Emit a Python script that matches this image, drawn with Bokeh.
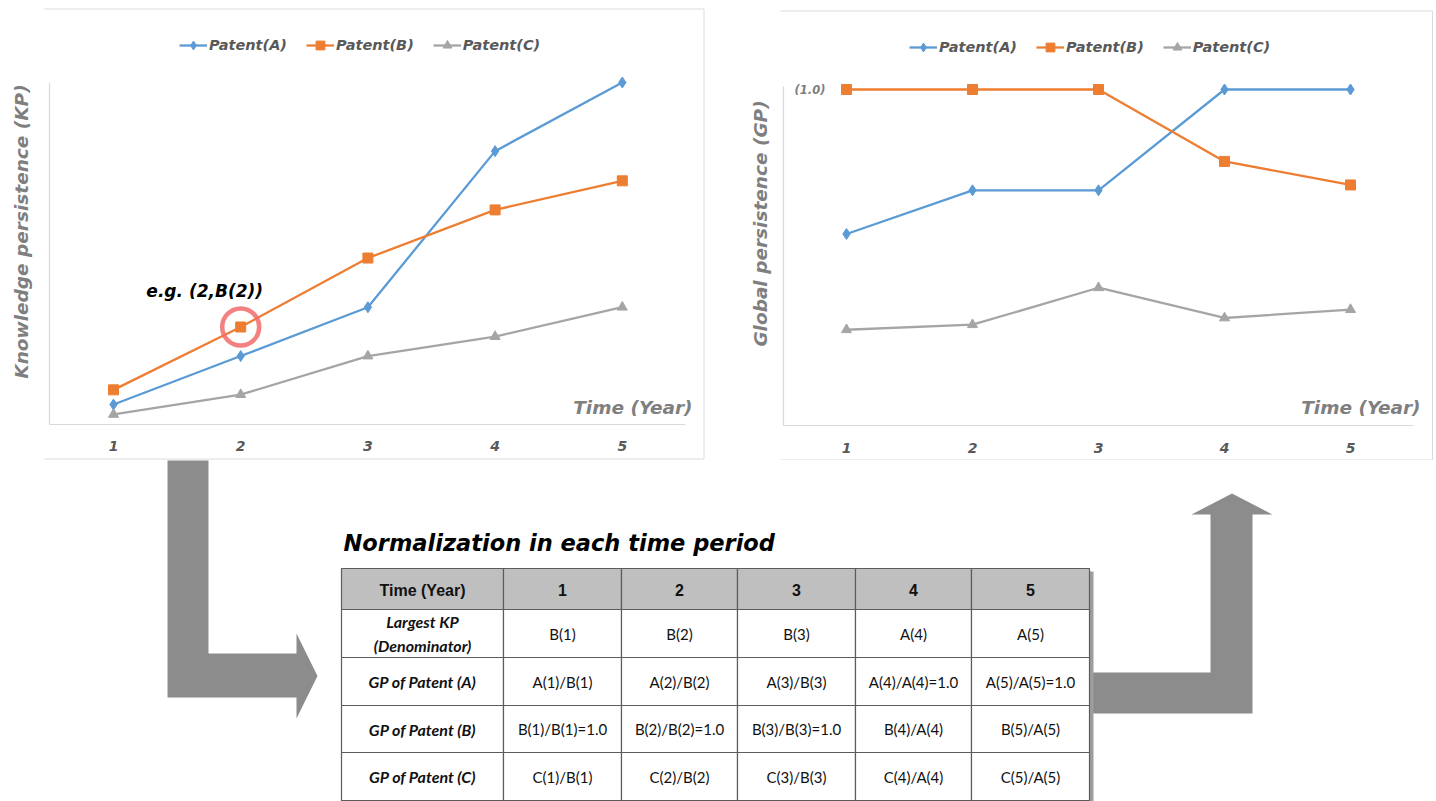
import math

from bokeh.core.properties import value
from bokeh.embed import file_html
from bokeh.layouts import column, row
from bokeh.models import (FixedTicker, Label, Legend, LegendItem,
                          LinearAxis, Range1d)
from bokeh.plotting import figure
from bokeh.resources import INLINE

# ---------------------------------------------------------------- data
years = [1, 2, 3, 4, 5]
year_labels = ["1", "2", "3", "4", "5"]
series_names = ["Patent(A)", "Patent(B)", "Patent(C)"]

# knowledge persistence (raw)
kp_a = [0.57, 1.99, 3.42, 7.99, 10.0]
kp_b = [1.0, 2.84, 4.86, 6.27, 7.12]
kp_c = [0.28, 0.86, 1.99, 2.56, 3.42]

# global persistence (normalised per year by the largest KP)
gp_a = [0.57, 0.70, 0.70, 1.0, 1.0]
gp_b = [1.0, 1.0, 1.0, 0.786, 0.716]
gp_c = [0.285, 0.30, 0.41, 0.32, 0.345]

table_header = ["Time (Year)", "1", "2", "3", "4", "5"]
table_row_labels = ["Largest KP\n(Denominator)", "GP of Patent (A)",
                    "GP of Patent (B)", "GP of Patent (C)"]
table_denominator = ["B(1)", "B(2)", "B(3)", "A(4)", "A(5)"]
table_gp_a = ["A(1)/B(1)", "A(2)/B(2)", "A(3)/B(3)", "A(4)/A(4)=1.0", "A(5)/A(5)=1.0"]
table_gp_b = ["B(1)/B(1)=1.0", "B(2)/B(2)=1.0", "B(3)/B(3)=1.0", "B(4)/A(4)", "B(5)/A(5)"]
table_gp_c = ["C(1)/B(1)", "C(2)/B(2)", "C(3)/B(3)", "C(4)/A(4)", "C(5)/A(5)"]

# ---------------------------------------------------------------- styles
BLUE, ORANGE, GREY = "#5b9bd5", "#ed7d31", "#a5a5a5"
AXIS_GREY = "#d9d9d9"
FONT = "DejaVu Sans"
TITLE_GREY = "#7f7f7f"
TEXT_GREY = "#595959"


def make_chart(width, height, x1_px, unit_x, y0_px, unit_y, y_top_val,
               ks, y_title, title_px, time_px, legend_left, legend_bottom,
               box_px, one_label=False):
    """Line chart whose frame fills the whole canvas; the geometry arguments
    place year 1 at x1_px and value 0 at y0_px (pixels from the top-left)."""
    x_start = 1 - x1_px / unit_x
    x_end = 1 + (width - x1_px) / unit_x
    y_top = y0_px / unit_y
    y_bottom = -(height - y0_px) / unit_y

    def to_x(px):
        return x_start + px / unit_x

    def to_y(py):
        return y_top - py / unit_y

    p = figure(width=width, height=height,
               x_range=Range1d(x_start, x_end), y_range=Range1d(y_bottom, y_top),
               x_axis_type=None, y_axis_type=None, toolbar_location=None,
               output_backend="svg", min_border=0, outline_line_color=None,
               background_fill_color="white", border_fill_color="white")

    # open frame around the chart area: top, right and bottom edges
    left, right, top, bottom = box_px
    p.line([to_x(left), to_x(right), to_x(right), to_x(left)],
           [to_y(top), to_y(top), to_y(bottom), to_y(bottom)],
           line_color="#dcdcdc", line_width=1)

    xaxis = LinearAxis(fixed_location=0, bounds=(0.5, 5.5),
                       ticker=FixedTicker(ticks=years, minor_ticks=[]),
                       major_label_overrides={y: t for y, t in zip(years, year_labels)},
                       axis_line_color=AXIS_GREY, axis_line_width=1.2,
                       major_tick_line_color=None, minor_tick_line_color=None,
                       major_label_standoff=11,
                       major_label_text_font=FONT,
                       major_label_text_font_style="bold italic",
                       major_label_text_font_size="14px",
                       major_label_text_color=TEXT_GREY)
    p.add_layout(xaxis, "below")

    if one_label:
        yaxis = LinearAxis(fixed_location=0.5, bounds=(0, y_top_val),
                           ticker=FixedTicker(ticks=[1.0], minor_ticks=[]),
                           major_label_overrides={1.0: "(1.0)"},
                           axis_line_color=AXIS_GREY, axis_line_width=1.2,
                           major_tick_line_color=None, minor_tick_line_color=None,
                           major_label_standoff=5,
                           major_label_text_font=FONT,
                           major_label_text_font_style="bold italic",
                           major_label_text_font_size="11.5px",
                           major_label_text_color=TITLE_GREY)
        p.add_layout(yaxis, "right")
    else:
        yaxis = LinearAxis(fixed_location=0.5, bounds=(0, y_top_val),
                           ticker=FixedTicker(ticks=[], minor_ticks=[]),
                           axis_line_color=AXIS_GREY, axis_line_width=1.2,
                           major_tick_line_color=None, minor_tick_line_color=None,
                           major_label_text_font_size="0px")
        p.add_layout(yaxis, "left")

    items = []
    for name, vals, color, marker, size in zip(
            series_names, ks, [BLUE, ORANGE, GREY],
            ["diamond", "square", "triangle"], [11, 10, 10]):
        lr = p.line(years, vals, line_color=color, line_width=2.3)
        sr = p.scatter(years, vals, marker=marker, size=size,
                       fill_color=color, line_color=color)
        items.append(LegendItem(label=name, renderers=[lr, sr]))

    legend = Legend(items=items, orientation="horizontal",
                    location=(legend_left, height - legend_bottom),
                    border_line_color=None, background_fill_alpha=0,
                    padding=0, margin=0, spacing=19,
                    glyph_width=28, glyph_height=22, label_height=22,
                    label_standoff=2,
                    label_text_font=FONT, label_text_font_style="bold italic",
                    label_text_font_size="14.5px", label_text_color=TEXT_GREY,
                    label_text_baseline="middle")
    p.add_layout(legend)

    p.add_layout(Label(x=to_x(title_px[0]), y=to_y(title_px[1]), text=y_title,
                       angle=math.pi / 2, text_align="center", text_baseline="middle",
                       text_font=FONT, text_font_style="bold italic",
                       text_font_size="18.5px", text_color=TITLE_GREY))
    p.add_layout(Label(x=to_x(time_px[0]), y=to_y(time_px[1]), text="Time (Year)",
                       text_align="right", text_baseline="middle",
                       text_font=FONT, text_font_style="bold italic",
                       text_font_size="18.5px", text_color=TITLE_GREY))
    return p


# ---------------------------------------------------------------- KP chart
p1 = make_chart(width=720, height=460, x1_px=113, unit_x=127.2,
                y0_px=423.5, unit_y=34.15, y_top_val=10.0,
                ks=[kp_a, kp_b, kp_c], y_title="Knowledge persistence (KP)",
                title_px=(20.5, 231), time_px=(692, 407),
                legend_left=179, legend_bottom=56,
                box_px=(44, 703.5, 8.5, 458.5))

# highlighted point B(2)
p1.scatter([years[1]], [kp_b[1]], marker="circle", size=37, fill_color=None,
           line_color="#f26b6b", line_width=4.5, line_alpha=0.85)
p1.add_layout(Label(x=years[1], y=kp_b[1], x_offset=-36, y_offset=36,
                    text="e.g. (2,B(2))", text_align="center", text_baseline="middle",
                    text_font=FONT, text_font_style="bold italic",
                    text_font_size="17px", text_color="black"))

# ---------------------------------------------------------------- GP chart
p2 = make_chart(width=716, height=460, x1_px=126, unit_x=126,
                y0_px=425, unit_y=336, y_top_val=1.01,
                ks=[gp_a, gp_b, gp_c], y_title="Global persistence (GP)",
                title_px=(40, 223), time_px=(700, 407),
                legend_left=189, legend_bottom=57.5,
                box_px=(60, 712, 10.5, 459.5), one_label=True)

# ---------------------------------------------------------------- lower panel
q = figure(width=1436, height=341, x_range=Range1d(0, 1436), y_range=Range1d(801, 460),
           x_axis_type=None, y_axis_type=None, toolbar_location=None,
           output_backend="svg", min_border=0, outline_line_color=None,
           background_fill_color="white", border_fill_color="white")

ARROW = "#8c8c8c"
# bent arrow from the KP chart down into the table
q.patch([167, 208, 208, 296, 296, 317, 296, 296, 167],
        [455, 455, 653, 653, 633, 675.5, 718, 697, 697],
        fill_color=ARROW, line_color=None)
# bent arrow from the table up to the GP chart
q.patch([1092, 1210, 1210, 1191, 1231.5, 1272, 1252, 1252, 1092],
        [672, 672, 514, 514, 493, 514, 514, 713, 713],
        fill_color=ARROW, line_color=None)

q.text(x=[343], y=[542], text=["Normalization in each time period"],
       text_align="left", text_baseline="middle",
       text_font=value(FONT), text_font_style="bold italic",
       text_font_size="22.5px", text_color="black")

col_edges = [341, 503, 621, 737, 855, 971, 1089]
row_edges = [568, 609, 657, 705, 752, 800]

# drop shadow on the right of the table
q.quad(left=[1089], right=[1093], top=[571], bottom=[801],
       fill_color="#9e9e9e", line_color=None)

cl, cr, ct, cb, cf = [], [], [], [], []
for r in range(len(row_edges) - 1):
    for c in range(len(col_edges) - 1):
        cl.append(col_edges[c]); cr.append(col_edges[c + 1])
        ct.append(row_edges[r]); cb.append(row_edges[r + 1])
        cf.append("#bfbfbf" if r == 0 else "white")
q.quad(left=cl, right=cr, top=ct, bottom=cb, fill_color=cf,
       line_color="#5c5c5c", line_width=1.2)

col_mid = [(a + b) / 2 for a, b in zip(col_edges[:-1], col_edges[1:])]
row_mid = [(a + b) / 2 for a, b in zip(row_edges[:-1], row_edges[1:])]

q.text(x=col_mid, y=[row_mid[0] + 1] * len(col_mid), text=table_header,
       text_align="center", text_baseline="middle",
       text_font=value("Liberation Sans"), text_font_style="bold",
       text_font_size="16px", text_color="#111111")

q.text(x=[col_mid[0]] * len(table_row_labels), y=row_mid[1:], text=table_row_labels,
       text_align="center", text_baseline="middle", text_line_height=1.3,
       text_font=value("Lato"), text_font_style="bold italic",
       text_font_size="16px", text_color="#111111")

cell_x, cell_y, cell_t = [], [], []
for r, vals in enumerate([table_denominator, table_gp_a, table_gp_b, table_gp_c]):
    for c, t in enumerate(vals):
        cell_x.append(col_mid[c + 1]); cell_y.append(row_mid[r + 1]); cell_t.append(t)
q.text(x=cell_x, y=cell_y, text=cell_t, text_align="center", text_baseline="middle",
       text_font=value("Lato"), text_font_size="15px", text_color="#111111")

layout = column(row(p1, p2), q)
open("out.html", "w").write(file_html(layout, INLINE, "Knowledge and global persistence"))
